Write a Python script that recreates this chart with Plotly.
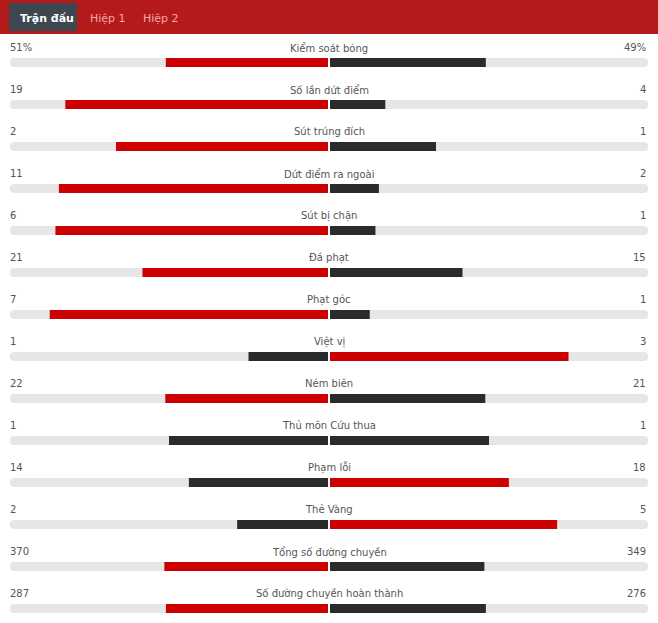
import plotly.graph_objects as go

# match stats (home / away)
labels = [
    "Kiểm soát bóng", "Số lần dứt điểm", "Sút trúng đích", "Dứt điểm ra ngoài",
    "Sút bị chặn", "Đá phạt", "Phạt góc", "Việt vị", "Ném biên",
    "Thủ môn Cứu thua", "Phạm lỗi", "Thẻ Vàng", "Tổng số đường chuyền",
    "Số đường chuyền hoàn thành",
]
home = [51, 19, 2, 11, 6, 21, 7, 1, 22, 1, 14, 2, 370, 287]
away = [49, 4, 1, 2, 1, 15, 1, 3, 21, 1, 18, 5, 349, 276]
home_txt = ["51%"] + [str(v) for v in home[1:]]
away_txt = ["49%"] + [str(v) for v in away[1:]]

tabs = ["Trận đấu", "Hiệp 1", "Hiệp 2"]

W, H = 658, 623
RED = "#cc0000"
DARK = "#2b2b2b"
TRACK = "#e6e6e6"
HEAD = "#b51a1b"
TXT = "#555555"

half = 318.0          # px per half bar
center = 329.0        # px of the centre line
gap = 1.0 / half      # 1px gap each side of centre
row_h = 42.0
first = 62.5          # px centre of first bar

n = len(labels)
rows = list(range(n))
lfrac = [h / (h + a) for h, a in zip(home, away)]
rfrac = [a / (h + a) for h, a in zip(home, away)]
lcol = [RED if h > a else DARK for h, a in zip(home, away)]
rcol = [RED if a > h else DARK for h, a in zip(home, away)]

bw = 9.0 / row_h

fig = go.Figure()
# grey tracks
fig.add_trace(go.Bar(y=rows, x=[-1] * n, base=[-gap] * n, orientation="h",
                     width=bw, marker=dict(color=TRACK, cornerradius=4, line_width=0)))
fig.add_trace(go.Bar(y=rows, x=[1] * n, base=[gap] * n, orientation="h",
                     width=bw, marker=dict(color=TRACK, cornerradius=4, line_width=0)))
# values
fig.add_trace(go.Bar(y=rows, x=[-f for f in lfrac], base=[-gap] * n, orientation="h",
                     width=bw, marker=dict(color=lcol, line_width=0)))
fig.add_trace(go.Bar(y=rows, x=rfrac, base=[gap] * n, orientation="h",
                     width=bw, marker=dict(color=rcol, line_width=0)))

font = dict(family="DejaVu Sans", size=10, color=TXT)
anns = []
for i in rows:
    anns.append(dict(x=0, y=i, text=labels[i], showarrow=False, xanchor="center",
                     yanchor="middle", yshift=15, font=font))
    anns.append(dict(x=-1 - gap, y=i, text=home_txt[i], showarrow=False, xanchor="left",
                     yanchor="middle", yshift=15, xshift=-2, font=font))
    anns.append(dict(x=1 + gap, y=i, text=away_txt[i], showarrow=False, xanchor="right",
                     yanchor="middle", yshift=15, font=font))

# header tabs
tab_x = [18, 88, 141]
for t, tx in zip(tabs, tab_x):
    active = t == tabs[0]
    anns.append(dict(xref="paper", yref="paper", x=tx / W, y=1 - 18 / H, text=("<b>%s</b>" % t) if active else t,
                     showarrow=False, xanchor="left", yanchor="middle",
                     font=dict(family="DejaVu Sans", size=11,
                               color="#ffffff" if active else "#f6a8a8")))

shapes = [
    dict(type="rect", xref="paper", yref="paper", x0=0, x1=1, y0=1 - 34 / H, y1=1,
         fillcolor=HEAD, line_width=0, layer="below"),
    dict(type="rect", xref="paper", yref="paper", x0=9 / W, x1=77 / W, y0=1 - 31 / H, y1=1 - 3 / H,
         fillcolor="#3d4750", line_width=0, layer="below"),
]

fig.update_layout(
    width=W, height=H,
    margin=dict(l=0, r=0, t=0, b=0),
    paper_bgcolor="white", plot_bgcolor="white",
    barmode="overlay", showlegend=False, hovermode=False,
    xaxis=dict(range=[-center / half, (W - center) / half], visible=False, fixedrange=True),
    yaxis=dict(range=[(H - first) / row_h, -first / row_h], visible=False, fixedrange=True),
    annotations=anns, shapes=shapes,
)

# page body has an 8px default margin, drop it so the figure fills the window
fig.write_html("out.html", config={"displayModeBar": False},
               post_script="document.body.style.margin='0';")
